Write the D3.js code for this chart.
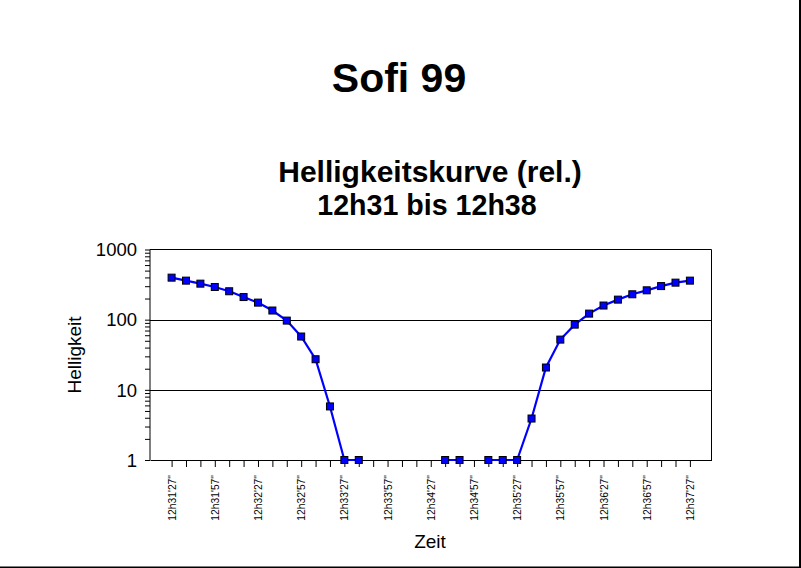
<!DOCTYPE html>
<html>
<head>
<meta charset="utf-8">
<script src="https://cdn.jsdelivr.net/npm/d3@7"></script>
<style>
  html, body { margin: 0; padding: 0; background: #fff; }
  svg { display: block; font-family: "Liberation Sans", Arial, sans-serif; }
</style>
</head>
<body>
<svg id="chart" width="801" height="568"></svg>
<script>
// ---- data ----
const chartTitle = "Sofi 99";
const subTitle1 = "Helligkeitskurve (rel.)";
const subTitle2 = "12h31 bis 12h38";
const yAxisTitle = "Helligkeit";
const xAxisTitle = "Zeit";

const times = [
  "12h31'27\"", "12h31'37\"", "12h31'47\"", "12h31'57\"", "12h32'07\"", "12h32'17\"",
  "12h32'27\"", "12h32'37\"", "12h32'47\"", "12h32'57\"", "12h33'07\"", "12h33'17\"",
  "12h33'27\"", "12h33'37\"", "12h33'47\"", "12h33'57\"", "12h34'07\"", "12h34'17\"",
  "12h34'27\"", "12h34'37\"", "12h34'47\"", "12h34'57\"", "12h35'07\"", "12h35'17\"",
  "12h35'27\"", "12h35'37\"", "12h35'47\"", "12h35'57\"", "12h36'07\"", "12h36'17\"",
  "12h36'27\"", "12h36'37\"", "12h36'47\"", "12h36'57\"", "12h37'07\"", "12h37'17\"",
  "12h37'27\""
];
const brightness = [
  397, 360, 326, 292, 254, 210, 175, 135, 97, 57.5, 27.3, 5.8,
  1, 1, null, null, null, null, null, 1, 1, null, 1, 1,
  1, 3.9, 20.8, 52, 85, 122, 159, 193, 230, 262, 301, 337,
  360
];
const xTickLabels = [
  "12h31'27\"", "12h31'57\"", "12h32'27\"", "12h32'57\"", "12h33'27\"", "12h33'57\"",
  "12h34'27\"", "12h34'57\"", "12h35'27\"", "12h35'57\"", "12h36'27\"", "12h36'57\"",
  "12h37'27\""
];
const yTickValues = [1, 10, 100, 1000];

// ---- layout ----
const svg = d3.select("#chart");
const plot = { left: 150, right: 711.5, top: 249.5, bottom: 460 };

const x = d3.scalePoint().domain(times).range([plot.left, plot.right]).padding(1.5);
const y = d3.scaleLog().domain([1, 1000]).range([plot.bottom, plot.top]);

// outer frame (right and bottom)
svg.append("rect").attr("x", 799).attr("y", 0).attr("width", 2).attr("height", 568).attr("fill", "#000");
svg.append("rect").attr("x", 0).attr("y", 566.5).attr("width", 801).attr("height", 1.5).attr("fill", "#000");

// titles
svg.append("text").attr("x", 399).attr("y", 92).attr("text-anchor", "middle")
  .attr("font-size", 41).attr("font-weight", "bold").text(chartTitle);
svg.append("text").attr("x", 430).attr("y", 182).attr("text-anchor", "middle")
  .attr("font-size", 30).attr("font-weight", "bold").text(subTitle1);
svg.append("text").attr("x", 427).attr("y", 215).attr("text-anchor", "middle")
  .attr("font-size", 28.6).attr("font-weight", "bold").text(subTitle2);

// gridlines (major decades)
svg.append("g").selectAll("line").data([10, 100]).join("line")
  .attr("x1", plot.left).attr("x2", plot.right)
  .attr("y1", d => Math.round(y(d)) + 0.5).attr("y2", d => Math.round(y(d)) + 0.5)
  .attr("stroke", "#000").attr("stroke-width", 1);

// plot frame top & right
svg.append("line").attr("x1", plot.left).attr("x2", plot.right).attr("y1", plot.top).attr("y2", plot.top).attr("stroke", "#000");
svg.append("line").attr("x1", plot.right).attr("x2", plot.right).attr("y1", plot.top).attr("y2", plot.bottom).attr("stroke", "#000");

// y axis
const minorTicks = [];
[1, 10, 100].forEach(b => { for (let k = 1; k <= 10; k++) minorTicks.push(b * k); });
const yAxis = d3.axisLeft(y).tickValues(Array.from(new Set(minorTicks))).tickSize(5)
  .tickFormat(d => yTickValues.includes(d) ? String(d) : "");
const yg = svg.append("g").attr("transform", `translate(${plot.left},0)`).call(yAxis);
yg.select(".domain").attr("stroke", "#000").attr("d", `M-0.5,${plot.top}V${plot.bottom}`).attr("transform", "translate(0.5,0)");
yg.selectAll(".tick line").attr("stroke", "#000");
yg.selectAll(".tick text").attr("font-size", 18.5).attr("font-family", "Liberation Sans, Arial, sans-serif")
  .attr("fill", "#000").attr("x", -13).attr("dy", "0.34em");

// x axis
const xAxis = d3.axisBottom(x).tickSize(7).tickSizeOuter(0)
  .tickFormat(d => xTickLabels.includes(d) ? d : "");
const xg = svg.append("g").attr("transform", `translate(0,${plot.bottom})`).call(xAxis);
xg.select(".domain").attr("stroke", "#000");
xg.selectAll(".tick line").attr("stroke", "#000");
xg.selectAll(".tick text")
  .attr("font-size", 10.3).attr("font-family", "Liberation Sans, Arial, sans-serif").attr("fill", "#000")
  .attr("text-anchor", "end")
  .attr("transform", "rotate(-90)")
  .attr("x", -15).attr("y", 0).attr("dy", "0.35em");

// axis titles
svg.append("text").attr("transform", "translate(81,355) rotate(-90)").attr("text-anchor", "middle")
  .attr("font-size", 19).text(yAxisTitle);
svg.append("text").attr("x", 430).attr("y", 548).attr("text-anchor", "middle")
  .attr("font-size", 19).text(xAxisTitle);

// line
const pts = times.map((t, i) => ({ t, v: brightness[i] }));
const line = d3.line().defined(d => d.v !== null).x(d => x(d.t)).y(d => y(d.v));
svg.append("path").datum(pts).attr("d", line).attr("fill", "none")
  .attr("stroke", "#0000ff").attr("stroke-width", 2.2);

// markers
svg.append("g").selectAll("rect").data(pts.filter(d => d.v !== null)).join("rect")
  .attr("x", d => x(d.t) - 3.5).attr("y", d => y(d.v) - 3.5)
  .attr("width", 7).attr("height", 7)
  .attr("fill", "#0000ff").attr("stroke", "#000").attr("stroke-width", 1);
</script>
</body>
</html>
